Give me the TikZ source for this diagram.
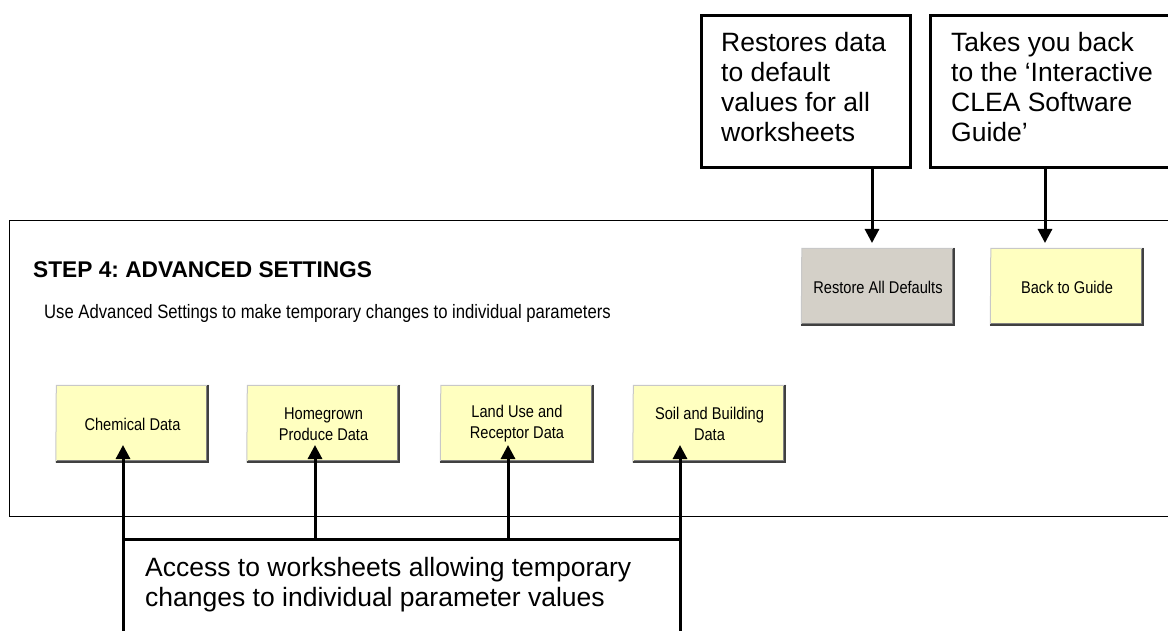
\documentclass[tikz,border=0pt]{standalone}
\usepackage{fontspec}
\setmainfont{Liberation Sans}
\newfontfamily\narrowsans[FakeStretch=0.86]{Liberation Sans}
\usetikzlibrary{arrows.meta,calc}
\frenchspacing
\definecolor{btnyellow}{HTML}{FFFFC0}
\definecolor{btngrey}{HTML}{D4D0C8}
\definecolor{edgedark}{HTML}{404040}
\definecolor{edgemid}{HTML}{808080}
\definecolor{edgelight}{HTML}{C8C8C8}
\tikzset{
  btn/.style={rectangle, inner sep=0pt, minimum width=153pt, minimum height=78pt,
    fill=btnyellow, align=center, font=\narrowsans\fontsize{17}{21}\selectfont},
  greybtn/.style={btn, fill=btngrey},
  callbox/.style={rectangle, draw, line width=3pt, inner sep=0pt, outer sep=0pt},
  calltext/.style={anchor=north west, inner sep=0pt, align=left,
    font=\fontsize{26.5}{30}\selectfont},
  conn/.style={line width=3pt, -{Triangle[width=14pt,length=14pt]}},
  frame/.style={draw, line width=1pt, inner sep=0pt, outer sep=0pt},
}
\newcommand{\btnedges}[1]{%
  \draw[edgelight, line width=1pt] ([yshift=0.5pt]#1.south west) -- ([xshift=0.5pt,yshift=-0.5pt]#1.north west) -- ([yshift=-0.5pt]#1.north east);
  \draw[edgedark, line width=2pt] ([xshift=-1pt]#1.north east) -- ([xshift=-1pt,yshift=1pt]#1.south east) -- ([yshift=1pt]#1.south west);
  \draw[edgemid, line width=1pt] ([xshift=-2.5pt,yshift=-1pt]#1.north east) -- ([xshift=-2.5pt,yshift=2.5pt]#1.south east) -- ([xshift=1pt,yshift=2.5pt]#1.south west);
}
\begin{document}
\begin{tikzpicture}[x=1pt,y=-1pt]
\useasboundingbox[fill=white] (0,0) rectangle (1168,631);
\clip (0,0) rectangle (1168,631);

% main panel
\node[frame, anchor=north west, minimum width=1180pt, minimum height=295pt] (panel) at (9,221) {};

% titles
\node[anchor=base west, inner sep=0pt, font=\bfseries\fontsize{22.7}{26}\selectfont] (title) at (33,277) {STEP 4: ADVANCED SETTINGS};
\node[anchor=base west, inner sep=0pt, font=\narrowsans\fontsize{19.4}{22}\selectfont] (subtitle) at (44,318) {Use Advanced Settings to make temporary changes to individual parameters};

% buttons
\node[greybtn] (restore) at (878,287) {Restore All Defaults};
\node[btn] (back) at (1067,287) {Back to Guide};
\node[btn] (chem) at (132.5,424) {Chemical Data};
\node[btn] (home) at (323.5,424) {Homegrown\\Produce Data};
\node[btn] (land) at (517,424) {Land Use and\\Receptor Data};
\node[btn] (soil) at (709.5,424) {Soil and Building\\Data};
\foreach \b in {restore,back,chem,home,land,soil}{\btnedges{\b}}

% callout boxes at top
\node[callbox, anchor=north west, minimum width=209pt, minimum height=152pt] (restorebox) at (701.5,15.5) {};
\node[calltext] (restoretext) at (721,32) {Restores data\\to default\\values for all\\worksheets};
\node[callbox, anchor=north west, minimum width=260pt, minimum height=152pt] (backbox) at (930.5,15.5) {};
\node[calltext] (backtext) at (951,32) {Takes you back\\to the ‘Interactive\\CLEA Software\\Guide’};

\coordinate (restoretip) at (872,243);
\coordinate (backtip) at (1045,243);
\draw[conn] (restoretip |- restorebox.south) -- (restoretip);
\draw[conn] (backtip |- backbox.south) -- (backtip);

% bottom callout
\node[callbox, anchor=north west, minimum width=557pt, minimum height=130pt] (accessbox) at (123,539) {};
\node[calltext] (accesstext) at (145,557) {Access to worksheets allowing temporary\\changes to individual parameter values};

\coordinate (chemtip) at (123,445);
\coordinate (hometip) at (315,445);
\coordinate (landtip) at (508,445);
\coordinate (soiltip) at (680,445);
\draw[conn] (accessbox.north west) -- (chemtip);
\draw[conn] (hometip |- accessbox.north) -- (hometip);
\draw[conn] (landtip |- accessbox.north) -- (landtip);
\draw[conn] (accessbox.north east) -- (soiltip);
\end{tikzpicture}
\end{document}
